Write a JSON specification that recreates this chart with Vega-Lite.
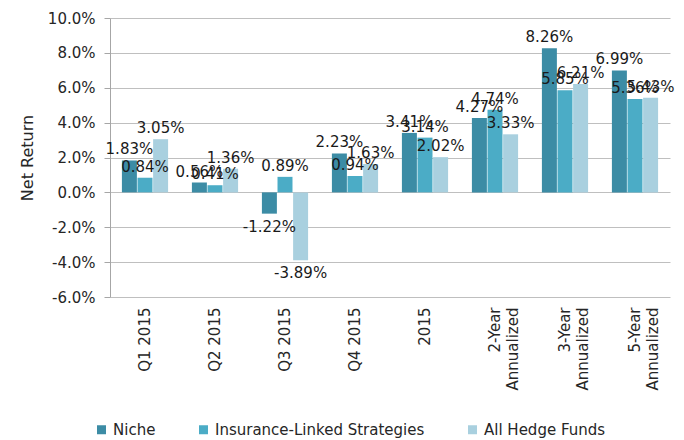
{
  "$schema": "https://vega.github.io/schema/vega-lite/v6.json",
  "autosize": {"type": "none"},
  "padding": {"left": 110, "top": 18, "right": 14, "bottom": 143},
  "width": 560,
  "height": 279,
  "background": "white",
  "config": {
    "font": "DejaVu Sans",
    "view": {"stroke": null},
    "locale": {"number": {"decimal": ".", "thousands": ",", "grouping": [3], "currency": ["$", ""], "minus": "-"}},
    "axis": {"labelFont": "DejaVu Sans", "titleFont": "DejaVu Sans"},
    "legend": {"labelFont": "DejaVu Sans"}
  },
  "data": {
    "values": [
      {"category": "Q1 2015", "series": "Niche", "value": 0.0183},
      {"category": "Q1 2015", "series": "Insurance-Linked Strategies", "value": 0.0084},
      {"category": "Q1 2015", "series": "All Hedge Funds", "value": 0.0305},
      {"category": "Q2 2015", "series": "Niche", "value": 0.0056},
      {"category": "Q2 2015", "series": "Insurance-Linked Strategies", "value": 0.0041},
      {"category": "Q2 2015", "series": "All Hedge Funds", "value": 0.0136},
      {"category": "Q3 2015", "series": "Niche", "value": -0.0122},
      {"category": "Q3 2015", "series": "Insurance-Linked Strategies", "value": 0.0089},
      {"category": "Q3 2015", "series": "All Hedge Funds", "value": -0.0389},
      {"category": "Q4 2015", "series": "Niche", "value": 0.0223},
      {"category": "Q4 2015", "series": "Insurance-Linked Strategies", "value": 0.0094},
      {"category": "Q4 2015", "series": "All Hedge Funds", "value": 0.0163},
      {"category": "2015", "series": "Niche", "value": 0.0341},
      {"category": "2015", "series": "Insurance-Linked Strategies", "value": 0.0314},
      {"category": "2015", "series": "All Hedge Funds", "value": 0.0202},
      {"category": "2-Year|Annualized", "series": "Niche", "value": 0.0427},
      {"category": "2-Year|Annualized", "series": "Insurance-Linked Strategies", "value": 0.0474},
      {"category": "2-Year|Annualized", "series": "All Hedge Funds", "value": 0.0333},
      {"category": "3-Year|Annualized", "series": "Niche", "value": 0.0826},
      {"category": "3-Year|Annualized", "series": "Insurance-Linked Strategies", "value": 0.0585},
      {"category": "3-Year|Annualized", "series": "All Hedge Funds", "value": 0.0621},
      {"category": "5-Year|Annualized", "series": "Niche", "value": 0.0699},
      {"category": "5-Year|Annualized", "series": "Insurance-Linked Strategies", "value": 0.0536},
      {"category": "5-Year|Annualized", "series": "All Hedge Funds", "value": 0.0543}
    ]
  },
  "encoding": {
    "x": {
      "field": "category",
      "type": "nominal",
      "sort": null,
      "scale": {"paddingInner": 0.34, "paddingOuter": 0.17},
      "axis": {
        "title": null,
        "labelAngle": -90,
        "labelAlign": "right",
        "labelBaseline": "middle",
        "labelExpr": "split(datum.value, '|')",
        "labelFontSize": 15,
        "labelColor": "#262626",
        "labelPadding": 10,
        "labelLineHeight": 18,
        "ticks": false,
        "domain": false,
        "grid": false
      }
    },
    "xOffset": {
      "field": "series",
      "type": "nominal",
      "sort": ["Niche", "Insurance-Linked Strategies", "All Hedge Funds"],
      "scale": {"paddingInner": 0.04, "paddingOuter": 0}
    },
    "y": {
      "field": "value",
      "type": "quantitative",
      "scale": {"domain": [-0.06, 0.1], "nice": false, "zero": false},
      "axis": {
        "title": "Net Return",
        "titleFontSize": 16,
        "titleFontWeight": "normal",
        "titleColor": "#262626",
        "titlePadding": 12,
        "format": ".1%",
        "values": [-0.06, -0.04, -0.02, 0, 0.02, 0.04, 0.06, 0.08, 0.1],
        "labelFontSize": 15,
        "labelColor": "#262626",
        "labelPadding": 9,
        "tickSize": 6,
        "tickColor": "#A6A6A6",
        "domainColor": "#A6A6A6",
        "gridColor": "#BFBFBF",
        "gridWidth": 1
      }
    }
  },
  "layer": [
    {
      "mark": {"type": "bar"},
      "encoding": {
        "color": {
          "field": "series",
          "type": "nominal",
          "sort": ["Niche", "Insurance-Linked Strategies", "All Hedge Funds"],
          "scale": {
            "domain": ["Niche", "Insurance-Linked Strategies", "All Hedge Funds"],
            "range": ["#3C8CA5", "#4BACC6", "#A9D0DF"]
          },
          "legend": {
            "title": null,
            "orient": "none",
            "direction": "horizontal",
            "legendX": -16,
            "legendY": 404,
            "padding": 0,
            "symbolType": "square",
            "symbolSize": 81,
            "symbolStrokeWidth": 0,
            "labelFontSize": 15,
            "labelLimit": 0,
            "labelColor": "#262626",
            "labelOffset": 4,
            "columnPadding": 40
          }
        }
      }
    },
    {
      "transform": [{"filter": "datum.value >= 0"}],
      "mark": {"type": "text", "baseline": "bottom", "dy": -3, "fontSize": 15, "color": "#1a1a1a"},
      "encoding": {"text": {"field": "value", "type": "quantitative", "format": ".2%"}}
    },
    {
      "transform": [{"filter": "datum.value < 0"}],
      "mark": {"type": "text", "baseline": "top", "dy": 6, "fontSize": 15, "color": "#1a1a1a"},
      "encoding": {"text": {"field": "value", "type": "quantitative", "format": ".2%"}}
    }
  ]
}
